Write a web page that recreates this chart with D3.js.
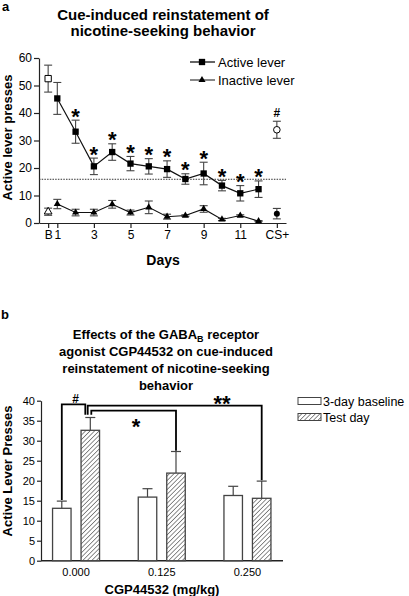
<!DOCTYPE html>
<html><head><meta charset="utf-8">
<script src="https://cdn.jsdelivr.net/npm/d3@7"></script>
<style>
body{margin:0;background:#fff}
text{font-family:"Liberation Sans",Arial,Helvetica,sans-serif;fill:#000}
</style></head>
<body><svg id="c" width="409" height="596"></svg>
<script>
// ---------- Panel a data ----------
const dayTicks = [0.5, 1, 3, 5, 7, 9, 11, 13];
const dayTickLabels = ["B", "1", "3", "5", "7", "9", "11", "CS+"];
const days = [1,2,3,4,5,6,7,8,9,10,11,12];
const activeMean = [45.3, 33.2, 20.6, 25.8, 21.6, 20.6, 19.6, 16.0, 18.0, 13.6, 10.8, 12.3];
const activeSem  = [5.8, 4.2, 3.0, 3.0, 2.6, 2.8, 3.0, 1.9, 4.1, 1.9, 2.8, 3.0];
const activeStar = [false,true,true,true,true,true,true,true,true,true,true,true];
const inactiveMean = [6.9, 3.8, 3.8, 6.8, 3.8, 5.7, 2.3, 2.7, 5.1, 1.3, 2.7, 0.7];
const inactiveSem  = [1.7, 1.2, 1.2, 1.4, 0.9, 2.3, 0.9, 0.3, 1.2, 0.4, 0.3, 0.2];
const baselineActive = {day: 0.5, mean: 52.5, sem: 4.9};
const baselineInactive = {day: 0.5, mean: 4.1, sem: 1.3};
const cueActive = {day: 13, mean: 33.9, sem: 3.1};
const cueInactive = {day: 13, mean: 3.4, sem: 1.9};
const extinctionCriterion = 15.9;
const yTicksA = [0,10,20,30,40,50,60];

// ---------- Panel b data ----------
const doses = ["0.000", "0.125", "0.250"];
const conditions = ["3-day baseline", "Test day"];
const baselineMeans = [13.1, 15.9, 16.3];
const baselineSems  = [1.8, 2.1, 2.3];
const testMeans = [32.6, 21.9, 15.6];
const testSems  = [3.2, 5.4, 4.3];
const yTicksB = [0,5,10,15,20,25,30,35,40];

const svg = d3.select("#c");
const FONT = '"Liberation Sans",Arial,Helvetica,sans-serif';

// hatch pattern
const defs = svg.append("defs");
const pat = defs.append("pattern").attr("id","hatch").attr("patternUnits","userSpaceOnUse")
  .attr("width",3.2).attr("height",3.2).attr("patternTransform","rotate(45)");
pat.append("rect").attr("width",3.2).attr("height",3.2).attr("fill","#fff");
pat.append("line").attr("x1",0).attr("y1",0).attr("x2",0).attr("y2",3.2)
  .attr("stroke","#333").attr("stroke-width",1.1);

// ================= Panel a =================
const gA = svg.append("g");
gA.append("text").attr("x",2).attr("y",11).attr("font-size",13).attr("font-weight","bold").text("a");
gA.append("text").attr("x",163).attr("y",19.5).attr("text-anchor","middle").attr("font-size",15).attr("font-weight","bold").text("Cue-induced reinstatement of");
gA.append("text").attr("x",163).attr("y",36).attr("text-anchor","middle").attr("font-size",15).attr("font-weight","bold").text("nicotine-seeking behavior");

const xA = d3.scaleLinear().domain([0, 13.5]).range([39, 286]);
const yA = d3.scaleLinear().domain([0, 60]).range([223, 58]);

const axYA = gA.append("g").attr("transform",`translate(${xA(0)},0)`)
  .call(d3.axisLeft(yA).tickValues(yTicksA).tickSize(5).tickPadding(2).tickSizeOuter(0));
axYA.selectAll("text").attr("font-size",12).attr("font-family",FONT);
const axXA = gA.append("g").attr("transform",`translate(0,${yA(0)})`)
  .call(d3.axisBottom(xA).tickValues(dayTicks).tickFormat((d,i)=>dayTickLabels[i]).tickSize(5).tickPadding(2).tickSizeOuter(0));
axXA.selectAll("text").attr("font-size",12).attr("font-family",FONT);
[axYA, axXA].forEach(a=>{a.selectAll("path,line").attr("stroke","#222").attr("stroke-width",1.2);});

gA.append("text").attr("transform",`translate(12,${(yA(0)+yA(60))/2 - 3}) rotate(-90)`)
  .attr("text-anchor","middle").attr("font-size",13).attr("font-weight","bold").text("Active lever presses");
gA.append("text").attr("x",163).attr("y",265).attr("text-anchor","middle").attr("font-size",14).attr("font-weight","bold").text("Days");

// dotted criterion line
gA.append("line").attr("x1",xA(0)).attr("x2",xA(13.5)).attr("y1",yA(extinctionCriterion)).attr("y2",yA(extinctionCriterion))
  .attr("stroke","#333").attr("stroke-width",1).attr("stroke-dasharray","1.5,1.2");

function errBar(g, x, m, s, w){
  g.append("line").attr("x1",x).attr("x2",x).attr("y1",yA(m+s)).attr("y2",yA(m-s)).attr("stroke","#444").attr("stroke-width",1.1);
  [m+s, m-s].forEach(v=>g.append("line").attr("x1",x-w).attr("x2",x+w).attr("y1",yA(v)).attr("y2",yA(v)).attr("stroke","#444").attr("stroke-width",1.1));
}
const active = days.map((d,i)=>({day:d, mean:activeMean[i], sem:activeSem[i], star:activeStar[i]}));
const inactive = days.map((d,i)=>({day:d, mean:inactiveMean[i], sem:inactiveSem[i]}));

[...active, baselineActive, cueActive].forEach(p=>errBar(gA, xA(p.day), p.mean, p.sem, 4));
[...inactive, baselineInactive, cueInactive].forEach(p=>errBar(gA, xA(p.day), p.mean, p.sem, 4));

const line = d3.line().x(d=>xA(d.day)).y(d=>yA(d.mean));
gA.append("path").datum(active).attr("d",line).attr("fill","none").attr("stroke","#111").attr("stroke-width",1.2);
gA.append("path").datum(inactive).attr("d",line).attr("fill","none").attr("stroke","#111").attr("stroke-width",1.1);

const sq = d3.symbol().type(d3.symbolSquare).size(40);
const tri = d3.symbol().type(d3.symbolTriangle).size(22);
gA.selectAll(".sq").data(active).join("path").attr("d",sq).attr("transform",d=>`translate(${xA(d.day)},${yA(d.mean)})`).attr("fill","#000");
gA.selectAll(".tri").data(inactive).join("path").attr("d",tri).attr("transform",d=>`translate(${xA(d.day)},${yA(d.mean)})`).attr("fill","#000");
// baseline open symbols
gA.append("path").attr("d",d3.symbol().type(d3.symbolSquare).size(40)()).attr("transform",`translate(${xA(baselineActive.day)},${yA(baselineActive.mean)})`).attr("fill","#fff").attr("stroke","#000").attr("stroke-width",1);
gA.append("path").attr("d",d3.symbol().type(d3.symbolTriangle).size(26)()).attr("transform",`translate(${xA(baselineInactive.day)},${yA(baselineInactive.mean)})`).attr("fill","#fff").attr("stroke","#000").attr("stroke-width",1);
// CS+ circles
gA.append("circle").attr("cx",xA(cueActive.day)).attr("cy",yA(cueActive.mean)).attr("r",3.3).attr("fill","#fff").attr("stroke","#000").attr("stroke-width",1);
gA.append("circle").attr("cx",xA(cueInactive.day)).attr("cy",yA(cueInactive.mean)).attr("r",3).attr("fill","#000");

// stars
gA.selectAll(".star").data(active.filter(d=>d.star)).join("text")
  .attr("x",d=>xA(d.day)).attr("y",d=>yA(d.mean+d.sem)+3.5).attr("text-anchor","middle")
  .attr("font-size",22).attr("font-weight","bold").text("*");
gA.append("text").attr("x",xA(cueActive.day)).attr("y",yA(cueActive.mean+cueActive.sem)-4).attr("text-anchor","middle")
  .attr("font-size",12).attr("font-weight","bold").text("#");

// legend a
const legA = gA.append("g");
[["Active lever", sq, 62, 1.3],["Inactive lever", tri, 80, 1]].forEach(([lab, sym, y, sw])=>{
  legA.append("line").attr("x1",190).attr("x2",215).attr("y1",y).attr("y2",y).attr("stroke","#111").attr("stroke-width",sw);
  legA.append("path").attr("d",sym).attr("transform",`translate(202,${y})`).attr("fill","#000");
  legA.append("text").attr("x",218).attr("y",y+4.5).attr("font-size",13).text(lab);
});

// ================= Panel b =================
const gB = svg.append("g");
gB.append("text").attr("x",1).attr("y",318.5).attr("font-size",13).attr("font-weight","bold").text("b");
const tB = gB.append("g").attr("font-size",13).attr("font-weight","bold");
const t1 = tB.append("text").attr("x",166).attr("y",338.5).attr("text-anchor","middle");
t1.append("tspan").text("Effects of the GABA");
t1.append("tspan").attr("font-size",9).attr("dy",3).text("B");
t1.append("tspan").attr("dy",-3).text(" receptor");
tB.append("text").attr("x",166).attr("y",356).attr("text-anchor","middle").text("agonist CGP44532 on cue-induced");
tB.append("text").attr("x",166).attr("y",372.5).attr("text-anchor","middle").text("reinstatement of nicotine-seeking");
tB.append("text").attr("x",166).attr("y",389.5).attr("text-anchor","middle").text("behavior");

const xB = d3.scaleBand().domain(doses).range([33.2, 290.3]).paddingInner(0).paddingOuter(0);
const xSub = d3.scaleBand().domain(conditions).range([-23.5, 23.5]).paddingInner(0.351);
const yB = d3.scaleLinear().domain([0, 40]).range([560.7, 400.7]);
const cx = d => xB(d) + xB.bandwidth()/2;

const axYB = gB.append("g").attr("transform",`translate(41,0)`)
  .call(d3.axisLeft(yB).tickValues(yTicksB).tickSize(4).tickPadding(2).tickSizeOuter(0));
axYB.selectAll("text").attr("font-size",11).attr("font-family",FONT);
axYB.selectAll("path,line").attr("stroke","#222").attr("stroke-width",1.2);
gB.append("line").attr("x1",41).attr("x2",283).attr("y1",yB(0)).attr("y2",yB(0)).attr("stroke","#222").attr("stroke-width",1.4);
gB.selectAll(".xl").data(doses).join("text").attr("x",d=>cx(d)).attr("y",576).attr("text-anchor","middle").attr("font-size",11).text(d=>d);
gB.append("text").attr("x",162).attr("y",593.5).attr("text-anchor","middle").attr("font-size",13).attr("font-weight","bold").text("CGP44532 (mg/kg)");
gB.append("text").attr("transform",`translate(12,471) rotate(-90)`).attr("text-anchor","middle").attr("font-size",13).attr("font-weight","bold").text("Active Lever Presses");

const bars = [];
doses.forEach((d,i)=>{
  bars.push({dose:d, cond:conditions[0], mean:baselineMeans[i], sem:baselineSems[i]});
  bars.push({dose:d, cond:conditions[1], mean:testMeans[i], sem:testSems[i]});
});
const bx = b => cx(b.dose) + xSub(b.cond);
const bmid = b => bx(b) + xSub.bandwidth()/2;
// error bars (upward only)
bars.forEach(b=>{
  const c = bmid(b);
  gB.append("line").attr("x1",c).attr("x2",c).attr("y1",yB(b.mean)).attr("y2",yB(b.mean+b.sem)).attr("stroke","#444").attr("stroke-width",1.2);
  gB.append("line").attr("x1",c-5).attr("x2",c+5).attr("y1",yB(b.mean+b.sem)).attr("y2",yB(b.mean+b.sem)).attr("stroke","#444").attr("stroke-width",1.2);
});
gB.selectAll(".bar").data(bars).join("rect")
  .attr("x",bx).attr("y",b=>yB(b.mean)).attr("width",xSub.bandwidth()).attr("height",b=>yB(0)-yB(b.mean))
  .attr("fill",b=>b.cond===conditions[0]?"#fff":"url(#hatch)").attr("stroke","#444").attr("stroke-width",1.3);

// significance brackets
const b0 = bars[0], t0 = bars[1], t125 = bars[3], t250 = bars[5];
function bracket(x1, y1v, x2, y2v, hv){
  const p = d3.path();
  p.moveTo(x1, yB(y1v)); p.lineTo(x1, yB(hv)); p.lineTo(x2, yB(hv)); p.lineTo(x2, yB(y2v));
  gB.append("path").attr("d",p.toString()).attr("fill","none").attr("stroke","#000").attr("stroke-width",1.8);
}
bracket(bmid(b0), b0.mean+b0.sem+0.3, bmid(t0)-5, t0.mean+t0.sem+0.7, 39.1);
bracket(bmid(t0)-2.6, t0.mean+t0.sem+0.7, bmid(t250), t250.mean+t250.sem+0.2, 38.75);
bracket(bmid(t0)+1, t0.mean+t0.sem+0.7, bmid(t125), t125.mean+t125.sem+0.2, 37.5);
gB.append("text").attr("x",(bmid(b0)+bmid(t0)-5)/2+2).attr("y",yB(39.1)-1.5).attr("text-anchor","middle").attr("font-size",12).attr("font-weight","bold").text("#");
gB.append("text").attr("x",222).attr("y",411).attr("text-anchor","middle").attr("font-size",22).attr("font-weight","bold").text("**");
gB.append("text").attr("x",136).attr("y",434).attr("text-anchor","middle").attr("font-size",22).attr("font-weight","bold").text("*");

// legend b
conditions.forEach((c,i)=>{
  const y = 401 + i*16;
  gB.append("rect").attr("x",298).attr("y",y-3.5).attr("width",23).attr("height",7)
    .attr("fill",i===0?"#fff":"url(#hatch)").attr("stroke","#444").attr("stroke-width",1);
  gB.append("text").attr("x",323).attr("y",y+4.5).attr("font-size",12.5).text(c);
});
</script></body></html>
